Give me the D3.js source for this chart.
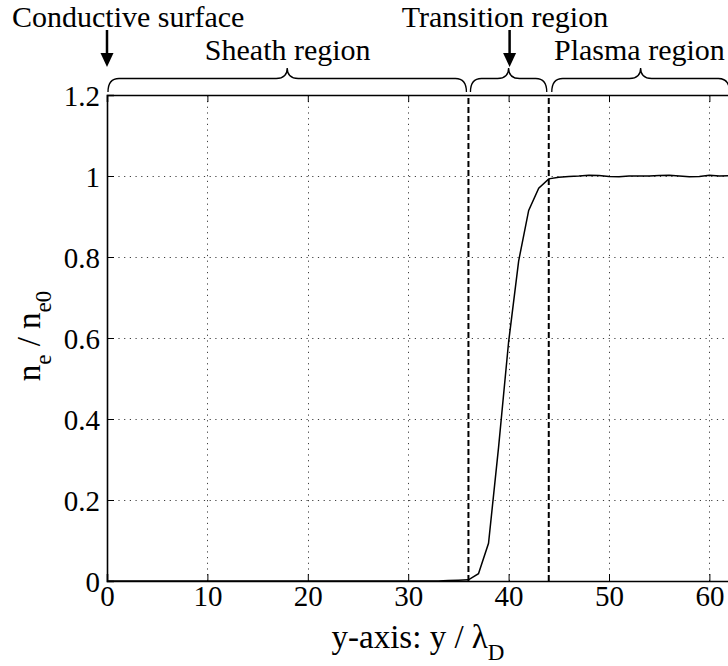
<!DOCTYPE html>
<html>
<head>
<meta charset="utf-8">
<script src="https://cdn.jsdelivr.net/npm/d3@7"></script>
<style>
  body { margin:0; background:#fff; }
  text { font-family:"Liberation Serif","Times New Roman",serif; fill:#000; }
</style>
</head>
<body>
<svg width="728" height="666"></svg>
<script>
// curve n_e / n_e0 against y / lambda_D
const yPos = [0,5,10,15,20,25,30,33,34,35,36,37,38,39,40,41,42,43,44,45,46,47,48,49,50,51,52,53,54,55,56,57,58,59,60,61,62];
const density = [0,0,0,0,0,0,0,0,0.001,0.002,0.003,0.018,0.093,0.33,0.59,0.79,0.915,0.97,0.993,0.997,0.999,1.0,1.002,1.001,0.999,0.998,1.0,1.0,1.0,1.001,1.002,1.0,0.998,0.999,1.002,1.0,1.001];
const xTicks = [0,10,20,30,40,50,60];
const yTicks = [0,0.2,0.4,0.6,0.8,1,1.2];
const yTickLabels = ['0','0.2','0.4','0.6','0.8','1','1.2'];
const boundaries = [36, 44];
const regions = [
  { name:'Sheath region', from:0.1, to:35.8 },
  { name:'Transition region', from:36.2, to:43.8 },
  { name:'Plasma region', from:44.3, to:62 }
];

const svg = d3.select('svg');
const x = d3.scaleLinear().domain([0, 62]).range([107, 107 + 62*10.04]);
const y = d3.scaleLinear().domain([0, 1.2]).range([581, 95]);
const fs = 29;     // tick labels
const fa = 30;     // annotations
const ft = 33;     // axis titles
const fsub = 23;   // subscripts

// grid
const grid = svg.append('g')
  .attr('stroke','#000').attr('stroke-width',1)
  .attr('stroke-dasharray','1.2,4.5').attr('opacity',0.75);
grid.selectAll('.vg').data(xTicks.filter(d => d > 0)).enter().append('line')
  .attr('x1', d => Math.round(x(d))+0.5).attr('x2', d => Math.round(x(d))+0.5)
  .attr('y1', y(0)).attr('y2', y(1.2));
grid.selectAll('.hg').data(yTicks.filter(d => d > 0 && d < 1.2)).enter().append('line')
  .attr('y1', d => Math.round(y(d))+0.5).attr('y2', d => Math.round(y(d))+0.5)
  .attr('x1', x(0)).attr('x2', x(62));

// axes with inward ticks
const xAxis = svg.append('g').attr('transform',`translate(0,${y(0)})`)
  .call(d3.axisBottom(x).tickValues(xTicks).tickSize(-7).tickPadding(12).tickFormat(d3.format('d')));
const xTop = svg.append('g').attr('transform',`translate(0,${y(1.2)})`)
  .call(d3.axisTop(x).tickValues(xTicks).tickSize(-7).tickFormat(''));
const yAxis = svg.append('g').attr('transform',`translate(${x(0)},0)`)
  .call(d3.axisLeft(y).tickValues(yTicks).tickSize(-7).tickPadding(7).tickFormat((d,i) => yTickLabels[i]));
[xAxis, xTop, yAxis].forEach(a => {
  a.selectAll('.domain').attr('stroke','#000').attr('stroke-width',1.6);
  a.selectAll('.tick line').attr('stroke','#000').attr('stroke-width',1);
  a.selectAll('text').style('font-family','"Liberation Serif",serif').style('font-size', fs+'px');
});
xAxis.selectAll('text').attr('dy','0.45em');
yAxis.selectAll('text').attr('dy','0.35em');

// region boundaries
svg.selectAll('.bd').data(boundaries).enter().append('line')
  .attr('x1', d => x(d)).attr('x2', d => x(d))
  .attr('y1', y(0)).attr('y2', y(1.2))
  .attr('stroke','#000').attr('stroke-width',2).attr('stroke-dasharray','6,3');

// curve
svg.append('path')
  .datum(yPos.map((d,i) => [d, density[i]]))
  .attr('fill','none').attr('stroke','#000').attr('stroke-width',1.5)
  .attr('d', d3.line().x(d => x(d[0])).y(d => y(d[1])));

// braces
function brace(x1, x2) {
  const yEnd = 92, yMid = 78.5, yTip = 68, q = 11, xm = (x1 + x2) / 2;
  return `M${x1},${yEnd} Q${x1},${yMid} ${x1+q},${yMid} L${xm-q},${yMid} Q${xm},${yMid} ${xm},${yTip}` +
         ` Q${xm},${yMid} ${xm+q},${yMid} L${x2-q},${yMid} Q${x2},${yMid} ${x2},${yEnd}`;
}
svg.selectAll('.brace').data(regions).enter().append('path')
  .attr('d', d => brace(x(d.from), x(d.to)))
  .attr('fill','none').attr('stroke','#000').attr('stroke-width',1.3);

// region labels
svg.append('text').attr('x', x(18)).attr('y', 60).attr('text-anchor','middle')
  .style('font-size', fa+'px').text('Sheath region');
svg.append('text').attr('x', 554).attr('y', 60)
  .style('font-size', fa+'px').text('Plasma region');
svg.append('text').attr('x', 505).attr('y', 27).attr('text-anchor','middle')
  .style('font-size', fa+'px').text('Transition region');
svg.append('text').attr('x', 12).attr('y', 27)
  .style('font-size', fa+'px').text('Conductive surface');

// arrows
function arrow(px) {
  svg.append('line').attr('x1', px).attr('x2', px).attr('y1', 30).attr('y2', 56)
    .attr('stroke','#000').attr('stroke-width',2.5);
  svg.append('path').attr('d', `M${px-6.5},53 L${px+6.5},53 L${px},67 Z`).attr('fill','#000');
}
arrow(x(0));
arrow(x(40.1));

// axis titles
const xl = svg.append('text').attr('x', 418).attr('y', 648).attr('text-anchor','middle')
  .style('font-size', ft+'px');
xl.append('tspan').text('y-axis: y / λ');
xl.append('tspan').attr('dy', 12).style('font-size', fsub+'px').text('D');

const yl = svg.append('text').attr('transform','translate(40,336) rotate(-90)')
  .attr('text-anchor','middle').style('font-size', ft+'px');
yl.append('tspan').text('n');
yl.append('tspan').attr('dy', 11).style('font-size', fsub+'px').text('e');
yl.append('tspan').attr('dy', -11).text(' / n');
yl.append('tspan').attr('dy', 11).style('font-size', fsub+'px').text('e0');
</script>
</body>
</html>
